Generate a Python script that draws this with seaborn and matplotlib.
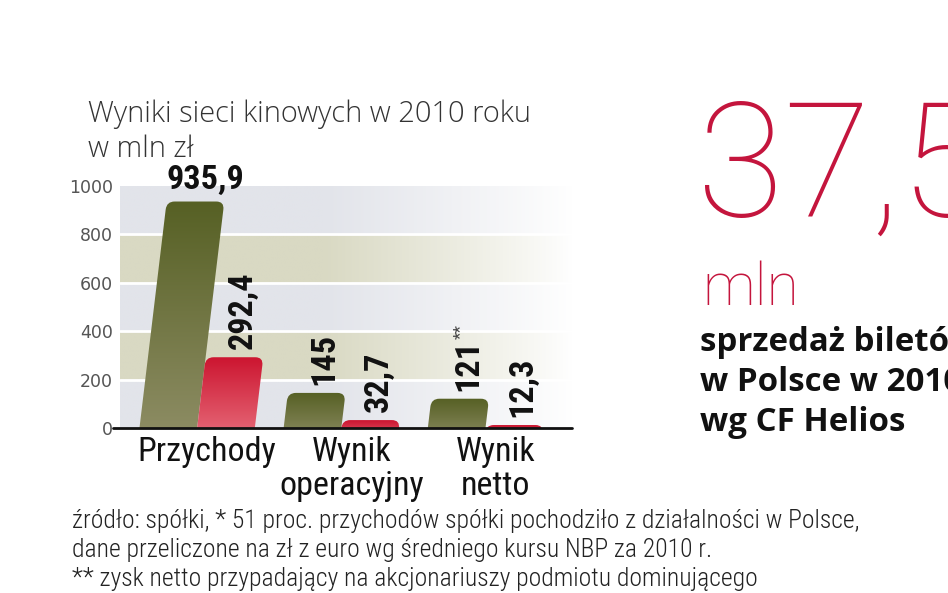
import os
import numpy as np
import pandas as pd
import matplotlib
matplotlib.use("Agg")
import matplotlib.pyplot as plt
import seaborn as sns
from matplotlib.patches import FancyBboxPatch
from matplotlib.transforms import Affine2D, blended_transform_factory
from matplotlib.colors import LinearSegmentedColormap, to_rgb
from matplotlib import font_manager as fm
from matplotlib.font_manager import FontProperties

# ---------------- data ----------------
categories = ["Przychody", "Wynik operacyjny", "Wynik netto"]
cat_lines = [["Przychody"], ["Wynik", "operacyjny"], ["Wynik", "netto"]]
series = ["seria 1", "seria 2"]
values_green = [935.9, 145, 121]
values_red = [292.4, 32.7, 12.3]
labels_green = ["935,9", "145", "121"]
labels_red = ["292,4", "32,7", "12,3"]
yticks = [0, 200, 400, 600, 800, 1000]
ytick_labels = ["0", "200", "400", "600", "800", "1000"]

title_lines = ["Wyniki sieci kinowych w 2010 roku", "w mln zł"]
big_number = "37,5"
big_unit = "mln"
side_lines = ["sprzedaż biletów", "w Polsce w 2010", "wg CF Helios"]
foot_lines = [
    "źródło: spółki, * 51 proc. przychodów spółki pochodziło z działalności w Polsce,",
    "dane przeliczone na zł z euro wg średniego kursu NBP za 2010 r.",
    "** zysk netto przypadający na akcjonariuszy podmiotu dominującego",
]

GREEN_TOP, GREEN_BOT = "#566024", "#8f8e66"
RED_TOP, RED_BOT = "#cc1530", "#e8707e"
CRIMSON = "#c4153d"

W, H = 948, 593
sns.set_theme(style="white")
plt.rcParams["font.family"] = ["DejaVu Sans"]


# ---------------- condensed font lookup ----------------
def find_condensed(kind):
    prio = ["liberationsansnarrow", "robotocondensed", "roboto_condensed",
            "opensanscondensed", "opensans_condensed", "notosanscondensed",
            "dejavusanscondensed"]
    best, best_score = None, 99
    for f in fm.fontManager.ttflist:
        fn = os.path.basename(f.fname).lower().replace("-", "").replace(" ", "")
        if "italic" in fn or "oblique" in fn:
            continue
        if not ("narrow" in fn or "condensed" in fn):
            continue
        is_bold = "bold" in fn and "semi" not in fn and "extra" not in fn
        is_light = "light" in fn and "extra" not in fn
        is_plain = not any(w in fn for w in ["bold", "light", "thin", "medium",
                                                "black", "semi", "extra"])
        ok = {"bold": is_bold, "light": is_light, "regular": is_plain}[kind]
        if not ok:
            continue
        score = 50
        for i, p in enumerate(prio):
            if p in fn:
                score = i
                break
        if score < best_score:
            best, best_score = f.fname, score
    if best:
        return FontProperties(fname=best)
    if kind == "light":
        return find_condensed("regular")
    return FontProperties(family="DejaVu Sans", stretch="condensed",
                          weight="bold" if kind == "bold" else "normal")


FP_NARROW = find_condensed("regular")
FP_NARROW_B = find_condensed("bold")
FP_NARROW_L = find_condensed("light")

fig = plt.figure(figsize=(W / 100, H / 100), dpi=100)
fig.patch.set_facecolor("white")
renderer = fig.canvas.get_renderer()


def sized(fp, s):
    p = fp.copy()
    p.set_size(s)
    return p


def fit(text, target_px, fp):
    t = fig.text(0, 0, text, fontproperties=sized(fp, 20))
    w = t.get_window_extent(renderer).width
    t.remove()
    return 20 * target_px / w


FP_TITLE = FontProperties(family=["Open Sans", "DejaVu Sans"], weight="light")
FP_BIG = FontProperties(family=["Roboto", "DejaVu Sans"], weight="light")
FP_SIDE = FontProperties(family=["Open Sans", "DejaVu Sans"], weight="bold")

ax = fig.add_axes([120 / W, 1 - 428 / H, 452 / W, 242 / H])

df = pd.DataFrame({
    "category": categories * 2,
    "series": [series[0]] * 3 + [series[1]] * 3,
    "value": values_green + values_red,
})
sns.barplot(data=df, x="category", y="value", hue="series",
            palette=[GREEN_TOP, RED_TOP], width=0.8, dodge=True,
            legend=False, ax=ax)

XL = (-0.535, 2.6)
ax.set_xlim(*XL)
ax.set_ylim(0, 1000)
for s in ax.spines.values():
    s.set_visible(False)
ax.set_xlabel("")
ax.set_ylabel("")
ax.set_xticks([])
ax.set_yticks(yticks)
ax.set_yticklabels(ytick_labels)
ax.tick_params(axis="y", length=0, pad=5, labelsize=12.5, labelcolor="#555555")

# ---------------- background bands ----------------
band_a = np.array(to_rgb("#e2e4ea"))
band_b = np.array(to_rgb("#d9d9c3"))
ny, nx = 200, 300
yy = (np.arange(ny) + 0.5) / ny * 1000
xf = (np.arange(nx) + 0.5) / nx
fade = np.clip((1.0 - xf) / 0.55, 0, 1) ** 0.9
bg = np.ones((ny, nx, 3))
for i, y in enumerate(yy):
    col = band_b if int(y // 200) % 2 == 1 else band_a
    bg[i] = 1 - (1 - col)[None, :] * fade[:, None]
ax.imshow(bg, extent=(XL[0], XL[1], 0, 1000), origin="lower",
          aspect="auto", zorder=0, interpolation="bilinear")
for y in [200, 400, 600, 800]:
    ax.axhline(y, color="white", lw=2, zorder=1)

ax.set_xlim(*XL)
ax.set_ylim(0, 1000)

# ---------------- bars: skewed, rounded, gradient ----------------
fig.canvas.draw()
y0 = ax.transData.transform((0, 0))[1]
k = 0.12
skew = Affine2D().translate(0, -y0).skew(np.arctan(k), 0).translate(0, y0)
trans = ax.transData + skew
px_x = ax.transData.transform((1, 0))[0] - ax.transData.transform((0, 0))[0]
px_y = ax.transData.transform((0, 1000))[1] - y0
r_px = 8
r_x = r_px / px_x
aspect = (r_px / px_y * 1000) / r_x

bar_info = []
for p in list(ax.patches):
    h = p.get_height()
    x = p.get_x()
    w = p.get_width()
    if any(abs(h - v) < 1e-6 for v in values_green):
        top, bot = GREEN_TOP, GREEN_BOT
        idx = [abs(h - v) < 1e-6 for v in values_green].index(True)
        lab = labels_green[idx]
    else:
        top, bot = RED_TOP, RED_BOT
        idx = [abs(h - v) < 1e-6 for v in values_red].index(True)
        lab = labels_red[idx]
    p.set_visible(False)
    shape = FancyBboxPatch((x, -60), w, h + 60,
                           boxstyle=f"round,pad=0,rounding_size={r_x}",
                           mutation_aspect=aspect, transform=trans)
    cmap = LinearSegmentedColormap.from_list("g", [bot, top])
    grad = np.linspace(0, 1, 256).reshape(-1, 1)
    im = ax.imshow(grad, extent=(x - 0.05, x + w + 0.5, -60, h),
                   origin="lower", cmap=cmap, aspect="auto", zorder=2,
                   interpolation="bilinear")
    im.set_clip_path(shape)
    bar_info.append((x + w / 2, h, lab))

ax.set_xlim(*XL)
ax.set_ylim(0, 1000)

# baseline
ax.plot([-0.015, 1.0], [0, 0], transform=ax.transAxes, color="#111111",
        lw=2, clip_on=False, zorder=5)

# ---------------- value labels ----------------
val_size = fit("935,9", 78, FP_NARROW_B)
fp_val = sized(FP_NARROW_B, val_size)
fp_star = sized(FP_NARROW, val_size * 0.5)
for cx, h, lab in bar_info:
    h_px = h / 1000 * px_y
    shift = k * h_px
    if lab == "935,9":
        ax.annotate(lab, xy=(cx, h), xytext=(shift + 10, 6),
                    textcoords="offset pixels", ha="center", va="bottom",
                    fontproperties=fp_val, color="#111111",
                    annotation_clip=False)
    else:
        t = ax.annotate(lab, xy=(cx, h), xytext=(shift + 8, 8),
                        textcoords="offset pixels", ha="center", va="bottom",
                        rotation=90, fontproperties=fp_val, color="#111111",
                        annotation_clip=False)
        if lab == "121":
            fig.canvas.draw()
            bb = t.get_window_extent()
            ax.annotate("**", xy=(cx, h), xytext=(shift + 0, 8 + bb.height),
                        textcoords="offset pixels", ha="center", va="bottom",
                        rotation=90, fontproperties=fp_star, color="#444444",
                        annotation_clip=False)

# ---------------- category labels ----------------
cat_size = fit("Przychody", 138, FP_NARROW)
fp_cat = sized(FP_NARROW, cat_size)
bt = blended_transform_factory(ax.transData, fig.transFigure)
for i, lines in enumerate(cat_lines):
    for j, line in enumerate(lines):
        ax.text(i + 0.07, 1 - (461 + 34 * j) / H, line, transform=bt,
                ha="center", va="baseline", fontproperties=fp_cat,
                color="#111111")

# ---------------- titles & side texts ----------------
fp_title = sized(FP_TITLE, fit(title_lines[0], 442, FP_TITLE))
fig.text(88 / W, 1 - 122 / H, title_lines[0], fontproperties=fp_title,
         color="#333333", va="baseline")
fig.text(88 / W, 1 - 157 / H, title_lines[1], fontproperties=fp_title,
         color="#333333", va="baseline")

fp_big = sized(FP_BIG, fit(big_number, 290, FP_BIG))
fig.text(697 / W, 1 - 216 / H, big_number, fontproperties=fp_big,
         color=CRIMSON, va="baseline")
fp_unit = sized(FP_BIG, fit(big_unit, 97, FP_BIG))
fig.text(702 / W, 1 - 305 / H, big_unit, fontproperties=fp_unit,
         color=CRIMSON, va="baseline")
fp_side = sized(FP_SIDE, fit(side_lines[2], 205, FP_SIDE))
for j, line in enumerate(side_lines):
    fig.text(700 / W, 1 - (351 + 40 * j) / H, line, fontproperties=fp_side,
             color="#111111", va="baseline")

fp_foot = sized(FP_NARROW_L, fit(foot_lines[0], 786, FP_NARROW_L))
for j, line in enumerate(foot_lines):
    fig.text(72 / W, 1 - (528 + 29 * j) / H, line, fontproperties=fp_foot,
             color="#222222", va="baseline")

fig.savefig("out.png", dpi=100, facecolor="white")
